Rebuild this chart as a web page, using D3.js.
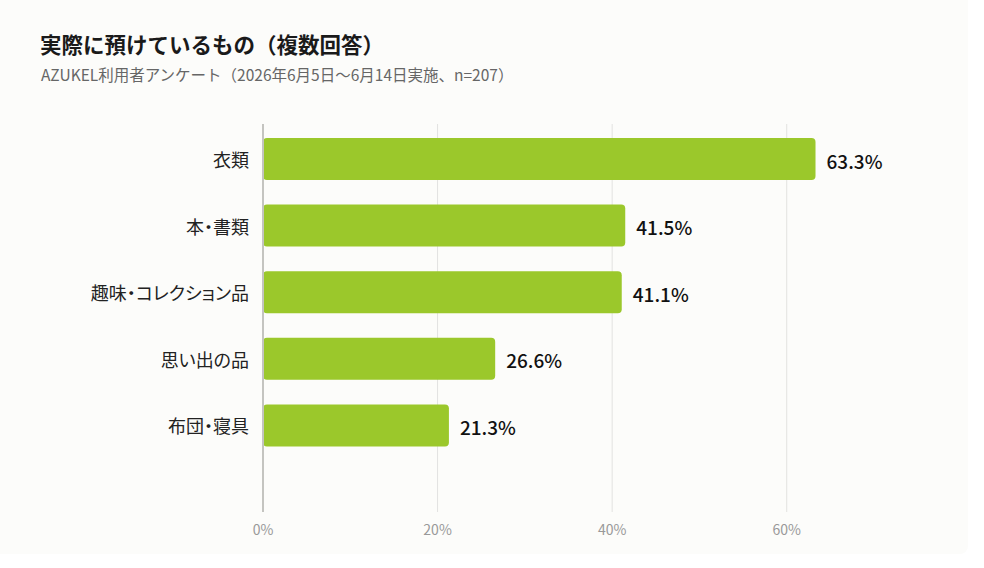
<!DOCTYPE html>
<html lang="ja">
<head>
<meta charset="utf-8">
<script src="https://cdn.jsdelivr.net/npm/d3@7"></script>
<style>
  html, body { margin: 0; padding: 0; background: #ffffff; }
  svg { display: block; font-family: "Noto Sans CJK JP", "Noto Sans", sans-serif; }
  .palt { font-feature-settings: "palt"; }
</style>
</head>
<body>
<svg width="984" height="568"></svg>
<script>
const categories = ["衣類", "本・書類", "趣味・コレクション品", "思い出の品", "布団・寝具"];
const values = [63.3, 41.5, 41.1, 26.6, 21.3];
const ticks = [0, 20, 40, 60];
const title = "実際に預けているもの（複数回答）";
const subtitle = "AZUKEL利用者アンケート（2026年6月5日〜6月14日実施、n=207）";

const data = categories.map((c, i) => ({ label: c, value: values[i] }));

const svg = d3.select("svg");

// card background
svg.append("rect")
	.attr("x", -10).attr("y", -10)
	.attr("width", 978).attr("height", 564)
	.attr("rx", 8)
	.attr("fill", "#fcfcfa");

svg.append("text")
	.attr("x", 40).attr("y", 53)
	.attr("font-size", 21.5).attr("font-weight", 700)
	.attr("fill", "#1a1a1a")
	.text(title);

svg.append("text")
	.attr("x", 41).attr("y", 81)
	.attr("font-size", 15.5)
	.attr("fill", "#666")
	.text(subtitle);

const x = d3.scaleLinear().domain([0, 70]).range([263, 874]);
const y = d3.scaleBand()
	.domain(categories)
	.range([125.7, 458.7])
	.paddingInner(0.37)
	.paddingOuter(0.185);

const gridTop = 124, gridBottom = 512;

// gridlines
svg.append("g")
	.selectAll("line")
	.data(ticks.filter(t => t > 0))
	.join("line")
	.attr("x1", d => x(d)).attr("x2", d => x(d))
	.attr("y1", gridTop).attr("y2", gridBottom)
	.attr("stroke", "#e2e2e0")
	.attr("stroke-width", 1);

// bars
svg.append("g")
	.selectAll("rect")
	.data(data)
	.join("rect")
	.attr("x", x(0))
	.attr("y", d => y(d.label))
	.attr("width", d => x(d.value) - x(0))
	.attr("height", y.bandwidth())
	.attr("rx", 4)
	.attr("fill", "#9bc82b");

// baseline
svg.append("line")
	.attr("x1", x(0)).attr("x2", x(0))
	.attr("y1", gridTop).attr("y2", gridBottom)
	.attr("stroke", "#c4c4c0")
	.attr("stroke-width", 2);

// category labels
svg.append("g")
	.selectAll("text")
	.data(data)
	.join("text")
	.attr("class", "palt")
	.attr("x", 249)
	.attr("y", d => y(d.label) + y.bandwidth() / 2)
	.attr("text-anchor", "end")
	.attr("dominant-baseline", "central")
	.attr("font-size", 18)
	.attr("fill", "#222")
	.text(d => d.label);

// value labels
svg.append("g")
	.selectAll("text")
	.data(data)
	.join("text")
	.attr("x", d => x(d.value) + 11)
	.attr("y", d => y(d.label) + y.bandwidth() / 2 + 1)
	.attr("dominant-baseline", "central")
	.attr("font-size", 19)
	.attr("font-weight", 500)
	.attr("fill", "#111")
	.text(d => d.value.toFixed(1) + "%");

// x axis tick labels
svg.append("g")
	.selectAll("text")
	.data(ticks)
	.join("text")
	.attr("x", d => x(d))
	.attr("y", 535)
	.attr("text-anchor", "middle")
	.attr("font-size", 14)
	.attr("fill", "#999")
	.text(d => d + "%");
</script>
</body>
</html>
